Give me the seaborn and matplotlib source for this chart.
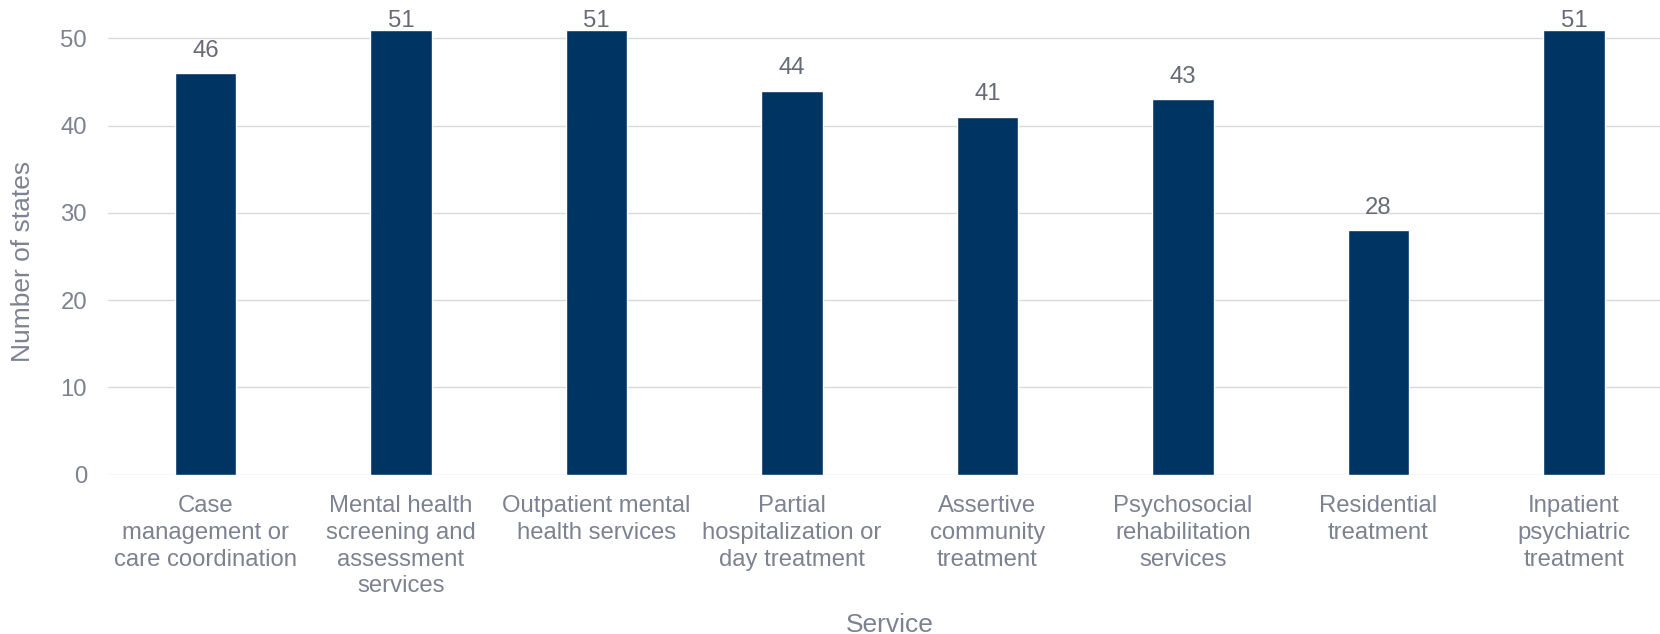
import matplotlib
matplotlib.use("Agg")
import matplotlib.pyplot as plt
import seaborn as sns
import pandas as pd

services = [
    "Case\nmanagement or\ncare coordination",
    "Mental health\nscreening and\nassessment\nservices",
    "Outpatient mental\nhealth services",
    "Partial\nhospitalization or\nday treatment",
    "Assertive\ncommunity\ntreatment",
    "Psychosocial\nrehabilitation\nservices",
    "Residential\ntreatment",
    "Inpatient\npsychiatric\ntreatment",
]
num_states = [46, 51, 51, 44, 41, 43, 28, 51]
y_ticks = [0, 10, 20, 30, 40, 50]

df = pd.DataFrame({"Service": services, "Number of states": num_states})

sns.set_theme(style="white")
plt.rcParams["font.family"] = ["Liberation Sans", "DejaVu Sans"]

BAR = "#003462"
TICK_C = "#7d8291"
VAL_C = "#686b75"
GRID_C = "#dadada"

W, H = 1660, 634
fig = plt.figure(figsize=(W / 100, H / 100), dpi=100)
ax_left, ax_bottom = 107.6, 634 - 474.5
ax_w, ax_h = 1564.0, 474.5
ax = fig.add_axes([ax_left / W, ax_bottom / H, ax_w / W, ax_h / H])

sns.barplot(data=df, x="Service", y="Number of states", color=BAR,
            width=0.314, saturation=1, ax=ax, zorder=3)

ymax = 54.4
ax.set_xlim(-0.5, 7.5)
ax.set_ylim(0, ymax)
ax.set_yticks(y_ticks)
ax.yaxis.grid(True, color=GRID_C, linewidth=1.0, zorder=0)
ax.set_axisbelow(True)
for s in ax.spines.values():
    s.set_visible(False)

ax.tick_params(axis="x", length=0, pad=15, labelsize=17.2, labelcolor=TICK_C)
ax.tick_params(axis="y", length=0, pad=14.8, labelsize=17.2, labelcolor=TICK_C)
for lbl in ax.get_xticklabels():
    lbl.set_linespacing(1.27)

# value labels above the bars, kept inside the top of the frame
for i, v in enumerate(num_states):
    yb = min(v + 1.92, 51.35)
    ax.text(i, yb, f"{v}", ha="center", va="baseline",
            fontsize=17.2, color=VAL_C, zorder=4)

ax.set_xlabel("Service", fontsize=19, color=TICK_C)
ax.set_ylabel("Number of states", fontsize=19, color=TICK_C)
ax.xaxis.label.set_va("baseline")
ax.yaxis.label.set_va("center")
ax.xaxis.set_label_coords(0.5, (474.5 - 631.7) / ax_h)
ax.yaxis.set_label_coords((23 - ax_left) / ax_w, 0.4485)

fig.savefig("out.png", dpi=100)
